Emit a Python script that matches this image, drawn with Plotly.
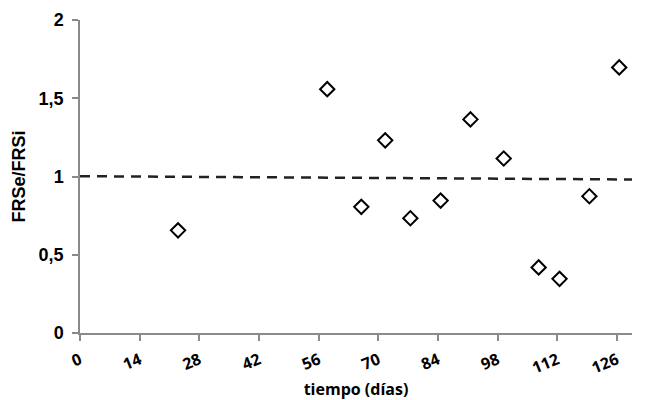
import plotly.graph_objects as go

dias = [23, 58, 66, 71.6, 77.5, 84.6, 91.6, 99.4, 107.6, 112.5, 119.5, 126.5]
frs_ratio = [0.656, 1.558, 0.806, 1.231, 0.733, 0.846, 1.365, 1.115, 0.419, 0.346, 0.874, 1.697]

trend_x = [0, 129.5]
trend_y = [1.002, 0.981]

x_ticks = [0, 14, 28, 42, 56, 70, 84, 98, 112, 126]
y_ticks = [0, 0.5, 1, 1.5, 2]
y_ticklabels = ["0", "0,5", "1", "1,5", "2"]

fig = go.Figure()
fig.add_trace(go.Scatter(
    x=trend_x, y=trend_y, mode="lines",
    line=dict(color="#222222", width=2.5, dash="10px,7px"),
    showlegend=False, hoverinfo="skip"))
fig.add_trace(go.Scatter(
    x=dias, y=frs_ratio, mode="markers",
    marker=dict(symbol="diamond-open", size=11, color="black", line=dict(width=2, color="black")),
    showlegend=False))

fig.update_layout(
    width=646, height=400,
    margin=dict(l=72, r=22, t=12, b=75),
    paper_bgcolor="white", plot_bgcolor="white",
    font=dict(family="Liberation Sans, Arial, sans-serif", color="black"),
    xaxis=dict(
        range=[0, 129.5], tickvals=x_ticks, ticktext=["<b>%d</b>" % v for v in x_ticks],
        tickangle=-22, showgrid=False, zeroline=False, automargin=False,
        showline=True, linecolor="#8a8a8a", linewidth=1.5,
        ticks="outside", ticklen=6, tickcolor="#8a8a8a", tickwidth=1.5,
        ticklabelstandoff=4,
        tickfont=dict(size=16, family="Open Sans", color="black"),
        title=dict(text="<b>tiempo (días)</b>", font=dict(size=16, family="Open Sans", color="black"), standoff=7),
    ),
    yaxis=dict(
        range=[0, 2], tickvals=y_ticks, ticktext=["<b>%s</b>" % t for t in y_ticklabels],
        showgrid=False, zeroline=False, automargin=False,
        showline=True, linecolor="#8a8a8a", linewidth=1.5,
        ticks="outside", ticklen=6, tickcolor="#8a8a8a", tickwidth=1.5,
        ticklabelstandoff=5,
        tickfont=dict(size=18, color="black"),
        title=dict(text="<b>FRSe/FRSi</b>", font=dict(size=18, color="black"), standoff=8),
    ),
)

fig.write_html("out.html")
